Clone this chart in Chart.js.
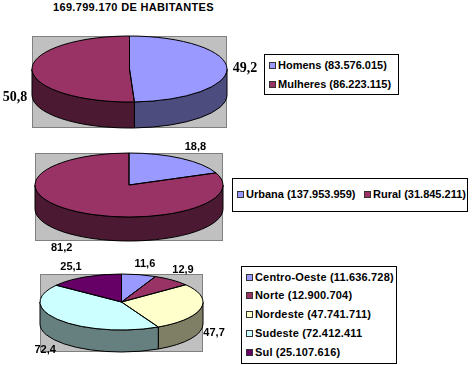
<!DOCTYPE html>
<html>
<head>
<meta charset="utf-8">
<script src="https://cdn.jsdelivr.net/npm/chart.js@4"></script>
<style>
  html, body { margin: 0; padding: 0; background: #fff; }
  body { position: relative; width: 472px; height: 365px; overflow: hidden; font-family: "Liberation Sans", Arial, sans-serif; color: #000; }
  canvas { position: absolute; left: 0; }
  #title { position: absolute; left: 53px; top: 1px; font-size: 11px; font-weight: bold; letter-spacing: 0.33px; white-space: nowrap; }
  .legend { position: absolute; box-sizing: border-box; border: 1px solid #000; background: #fff; font-size: 11px; font-weight: bold; white-space: nowrap; }
  .legend span.item { position: absolute; display: block; line-height: 13px; }
  .legend i { display: inline-block; width: 5px; height: 5px; border: 1px solid #333; margin-right: 2px; vertical-align: 0; }
  #legendRegiao { letter-spacing: 0.17px; }
</style>
</head>
<body>
<div id="title">169.799.170 DE HABITANTES</div>
<canvas id="chartSexo" width="262" height="108" style="top:30px"></canvas>
<canvas id="chartSituacao" width="262" height="118" style="top:140px"></canvas>
<canvas id="chartRegiao" width="262" height="110" style="top:255px"></canvas>
<div id="legendSexo" class="legend" style="left:264px;top:54px;width:135px;height:41px"></div>
<div id="legendSituacao" class="legend" style="left:232px;top:178px;width:236px;height:34px"></div>
<div id="legendRegiao" class="legend" style="left:241px;top:266px;width:156px;height:98px"></div>
<script>
"use strict";
// data
const sexoLabels = ["Homens (83.576.015)", "Mulheres (86.223.115)"];
const sexoValues = [49.2, 50.8];
const situacaoLabels = ["Urbana (137.953.959)", "Rural (31.845.211)"];
const situacaoValues = [18.8, 81.2];
const regiaoLabels = ["Centro-Oeste (11.636.728)", "Norte (12.900.704)", "Nordeste (47.741.711)", "Sudeste (72.412.411", "Sul (25.107.616)"];
const regiaoValues = [11.6, 12.9, 47.7, 72.4, 25.1];

const palette = ["#9999ff", "#993366", "#ffffcc", "#ccffff", "#660066"];

function darker(hex) {
  const n = parseInt(hex.slice(1), 16);
  return `rgb(${(n >> 16) >> 1}, ${((n >> 8) & 255) >> 1}, ${(n & 255) >> 1})`;
}

// squashes the pie into an ellipse and puts a wall under it
const pie3d = {
  id: "pie3d",
  beforeDatasetsDraw(chart, args, opts) {
    const { ctx, chartArea: a } = chart;
    const arcs = chart.getDatasetMeta(0).data;
    const rx = a.width / 2;
    const ry = (a.height - opts.depth) / 2;
    const cx = arcs[0].x;
    const cy = a.top + ry;

    ctx.save();
    ctx.fillStyle = "#c0c0c0";
    ctx.strokeStyle = "#808080";
    ctx.lineWidth = 1;
    ctx.fillRect(a.left, a.top, a.width, a.height);
    ctx.strokeRect(a.left + 0.5, a.top + 0.5, a.width - 1, a.height - 1);

    ctx.strokeStyle = "#000";
    arcs.forEach((arc, i) => {
      const from = Math.max(arc.startAngle, 0);
      const to = Math.min(arc.endAngle, Math.PI);
      if (from >= to) return;
      ctx.beginPath();
      ctx.ellipse(cx, cy, rx, ry, 0, from, to);
      ctx.ellipse(cx, cy + opts.depth, rx, ry, 0, to, from, true);
      ctx.closePath();
      ctx.fillStyle = darker(palette[i]);
      ctx.fill();
      ctx.stroke();
    });
    ctx.restore();

    ctx.save();
    ctx.translate(cx, cy);
    ctx.scale(rx / arcs[0].outerRadius, ry / arcs[0].outerRadius);
    ctx.translate(-cx, -arcs[0].y);
  },
  afterDatasetsDraw(chart, args, opts) {
    const { ctx, chartArea: a } = chart;
    ctx.restore();
    const arcs = chart.getDatasetMeta(0).data;
    const rx = a.width / 2;
    const ry = (a.height - opts.depth) / 2;
    const cx = arcs[0].x;
    const cy = a.top + ry;

    ctx.save();
    ctx.strokeStyle = "#000";
    ctx.lineWidth = 1;
    arcs.forEach((arc) => {
      ctx.beginPath();
      ctx.moveTo(cx, cy);
      ctx.ellipse(cx, cy, rx, ry, 0, arc.startAngle, arc.endAngle);
      ctx.closePath();
      ctx.stroke();
    });

    ctx.fillStyle = "#000";
    ctx.font = opts.font;
    ctx.textAlign = "center";
    ctx.textBaseline = "middle";
    arcs.forEach((arc, i) => {
      const mid = (arc.startAngle + arc.endAngle) / 2;
      const text = chart.data.datasets[0].data[i].toFixed(1).replace(".", ",");
      ctx.fillText(
        text,
        cx + rx * Math.cos(mid) + opts.labelShift[i][0],
        cy + ry * Math.sin(mid) + opts.labelShift[i][1]
      );
    });
    ctx.restore();
  },
};

function makePie(id, labels, values, padding, depth, font, labelShift) {
  return new Chart(document.getElementById(id), {
    type: "pie",
    data: {
      labels: labels,
      datasets: [{ data: values, backgroundColor: palette.slice(0, values.length), borderWidth: 0, hoverOffset: 0 }],
    },
    options: {
      responsive: false,
      animation: false,
      events: [],
      layout: { padding: padding },
      plugins: {
        legend: { display: false },
        tooltip: { enabled: false },
        pie3d: { depth: depth, font: font, labelShift: labelShift },
      },
    },
    plugins: [pie3d],
  });
}

function makeLegend(id, labels, spots) {
  const box = document.getElementById(id);
  labels.forEach((label, i) => {
    const item = document.createElement("span");
    item.className = "item";
    item.style.left = spots[i][0] + "px";
    item.style.top = spots[i][1] + "px";
    const swatch = document.createElement("i");
    swatch.style.background = palette[i];
    item.appendChild(swatch);
    item.appendChild(document.createTextNode(label));
    box.appendChild(item);
  });
}

makePie("chartSexo", sexoLabels, sexoValues, { left: 32, right: 35, top: 6, bottom: 10 }, 26, "bold 14px 'Liberation Serif'", [[18, 0], [-17, 28]]);
makePie("chartSituacao", situacaoLabels, situacaoValues, { left: 35, right: 39, top: 13, bottom: 17 }, 24, "bold 11px 'Liberation Sans'", [[14, -11], [-15, 36]]);
makePie("chartRegiao", regiaoLabels, regiaoValues, { left: 40, right: 59, top: 19, bottom: 13 }, 22, "bold 11px 'Liberation Sans'", [[6, -11], [11, -10], [13, 25], [-14, 30], [-14, -10]]);

makeLegend("legendSexo", sexoLabels, [[4, 4], [4, 23]]);
makeLegend("legendSituacao", situacaoLabels, [[4, 9], [131, 9]]);
makeLegend("legendRegiao", regiaoLabels, [[4, 4], [4, 22], [4, 41], [4, 60], [4, 79]]);
</script>
</body>
</html>
